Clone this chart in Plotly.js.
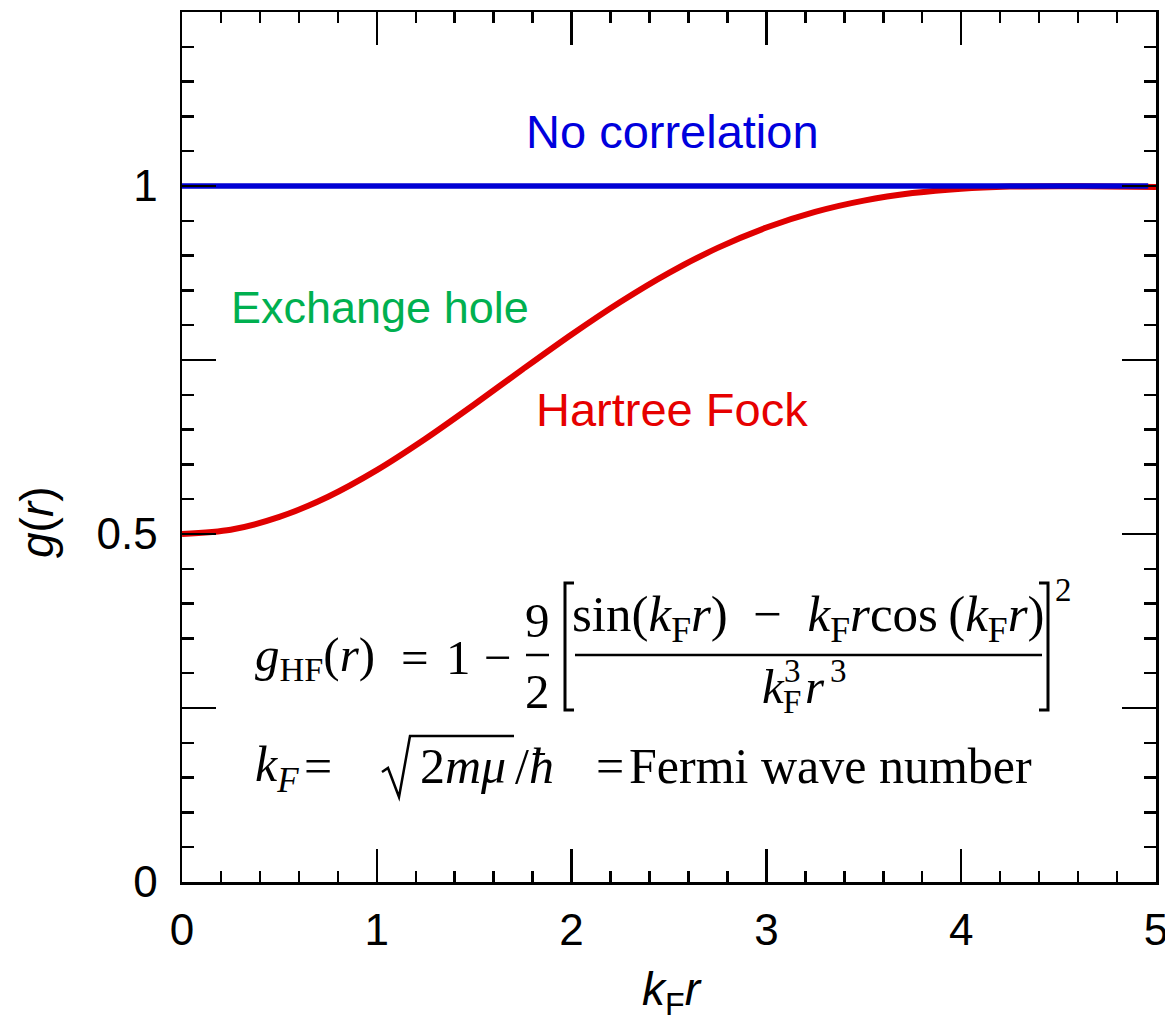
<!DOCTYPE html>
<html>
<head>
<meta charset="utf-8">
<script src="https://cdn.plot.ly/plotly-3.0.1.min.js"></script>
<style>html,body{margin:0;padding:0;background:#fff;}#chart{width:1165px;height:1034px;}</style>
</head>
<body>
<div id="chart"></div>
<script>
// ---- data ----
const kFr = [0, 0.25, 0.5, 0.75, 1, 1.25, 1.5, 1.75, 2, 2.25, 2.5, 2.75, 3, 3.25, 3.5, 3.75, 4, 4.25, 4.5, 4.75, 5];
const gHF = [0.5, 0.5062, 0.5245, 0.5536, 0.5918, 0.6369, 0.6861, 0.7369, 0.7867, 0.8334, 0.8753, 0.9111, 0.9403, 0.9628, 0.9790, 0.9898, 0.9962, 0.9992, 0.9998, 0.9994, 0.9984];
const noCorrX = [0, 4.96];
const noCorrY = [1, 1];
const xTickVals = [0, 1, 2, 3, 4, 5];
const xTickText = ['0', '1', '2', '3', '4', '5'];
const yTickVals = [0, 0.25, 0.5, 0.75, 1];
const yTickText = ['0', '', '0.5', '', '1'];

// ---- geometry helpers (pixel -> paper) ----
const L = 182, R = 1156, T = 12, B = 882;
const W = 1165, H = 1034;
const px = x => (x - L) / (R - L);
const py = y => (B - y) / (B - T);

const SANS = 'Liberation Sans, Arial, Helvetica, sans-serif';
const SERIF = 'Liberation Serif, Times New Roman, serif';

const ann = [];
function txt(text, x, y, size, opt) {
  opt = opt || {};
  ann.push({
    text: text, xref: 'paper', yref: 'paper', x: px(x), y: py(y),
    xanchor: opt.xanchor || 'center', yanchor: opt.yanchor || 'middle',
    showarrow: false, textangle: opt.angle || 0,
    font: {family: opt.family || SERIF, size: size, color: opt.color || '#000'}
  });
}
const shp = [];
function path(pts, w) {
  let d = pts.map((p, i) => (i ? 'L ' : 'M ') + px(p[0]).toFixed(5) + ' ' + py(p[1]).toFixed(5)).join(' ');
  shp.push({type: 'path', xref: 'paper', yref: 'paper', path: d, line: {color: '#000', width: w || 2.5}});
}

// labels on the curves
txt('No correlation', 672, 131, 47, {family: SANS, color: '#0000dd'});
txt('Exchange hole', 380, 307, 45, {family: SANS, color: '#00b050'});
txt('Hartree Fock', 672, 410, 47, {family: SANS, color: '#e60000'});

// axis titles
txt('<i>k</i><sub>F</sub><i>r</i>', 672, 992, 46, {family: SANS});
txt('<i>g</i>(<i>r</i>)', 37, 522, 46, {family: SANS, angle: -90});

// equation line 1
const F1 = 49;
txt('<i>g</i><sub>HF</sub>(<i>r</i>)', 253, 657, F1, {xanchor: 'left'});
txt('=', 415, 657, F1);
txt('1', 458, 657, F1);
txt('\u2212', 498, 657, F1);
txt('9', 537, 620, F1);
txt('2', 537, 692, F1);
path([[526, 655], [549, 655]], 2.5);
path([[574, 583], [565, 583], [565, 710], [574, 710]], 3);
path([[575, 655], [1042, 655]], 2.5);
path([[1039, 583], [1048, 583], [1048, 710], [1039, 710]], 3);
txt('sin(<i>k</i><sub>F</sub><i>r</i>)\u2002\u2212\u2002<i>k</i><sub>F</sub><i>r</i>cos\u2009(<i>k</i><sub>F</sub><i>r</i>)', 808, 618, 51);
txt('<i>k</i>', 773, 686, F1);
txt('3', 792, 671, 33);
txt('F', 792, 702, 33);
txt('<i>r</i>', 815, 686, F1);
txt('3', 838, 671, 33);
txt('2', 1063, 590, 33);

// equation line 2
const F2 = 50;
txt('<i>k</i><sub><i>F</i></sub>', 253, 768, F2, {xanchor: 'left'});
txt('=', 318, 766, F2);
path([[382, 772], [388, 768], [399, 797], [410, 736], [514, 736]], 2.5);
txt('2<i>m\u03bc</i>', 463, 766, F2);
txt('/<i>\u0127</i>', 513, 766, F2, {xanchor: 'left'});
txt('=', 610, 766, F2);
txt('Fermi wave number', 627, 766, F2, {xanchor: 'left'});

const traces = [
  {x: kFr, y: gHF, type: 'scatter', mode: 'lines', line: {color: '#e00000', width: 6, shape: 'spline', smoothing: 0.8}, hoverinfo: 'skip'},
  {x: noCorrX, y: noCorrY, type: 'scatter', mode: 'lines', line: {color: '#0000d4', width: 5.5}, hoverinfo: 'skip'}
];

const axisCommon = {
  showgrid: false, zeroline: false, showline: true, linecolor: '#000', linewidth: 2.5,
  mirror: 'ticks', ticks: 'inside', tickcolor: '#000', tickwidth: 2.5,
  ticklabeloverflow: 'allow',
  tickfont: {family: SANS, size: 44, color: '#000'}
};

const layout = {
  width: W, height: H,
  margin: {l: L, r: W - R, t: T, b: H - B},
  paper_bgcolor: '#fff', plot_bgcolor: '#fff',
  showlegend: false,
  xaxis: Object.assign({}, axisCommon, {
    range: [0, 5], tickmode: 'array', tickvals: xTickVals, ticktext: xTickText,
    ticklen: 33, ticklabelstandoff: 8,
    minor: {dtick: 0.2, tick0: 0, ticks: 'inside', ticklen: 11, tickwidth: 2.5, tickcolor: '#000', showgrid: false}
  }),
  yaxis: Object.assign({}, axisCommon, {
    range: [0, 1.25], tickmode: 'array', tickvals: yTickVals, ticktext: yTickText,
    ticklen: 34, ticklabelstandoff: 13,
    minor: {dtick: 0.05, tick0: 0, ticks: 'inside', ticklen: 12, tickwidth: 2.5, tickcolor: '#000', showgrid: false}
  }),
  annotations: ann,
  shapes: shp
};

Plotly.newPlot('chart', traces, layout, {staticPlot: true, displayModeBar: false});
</script>
</body>
</html>
